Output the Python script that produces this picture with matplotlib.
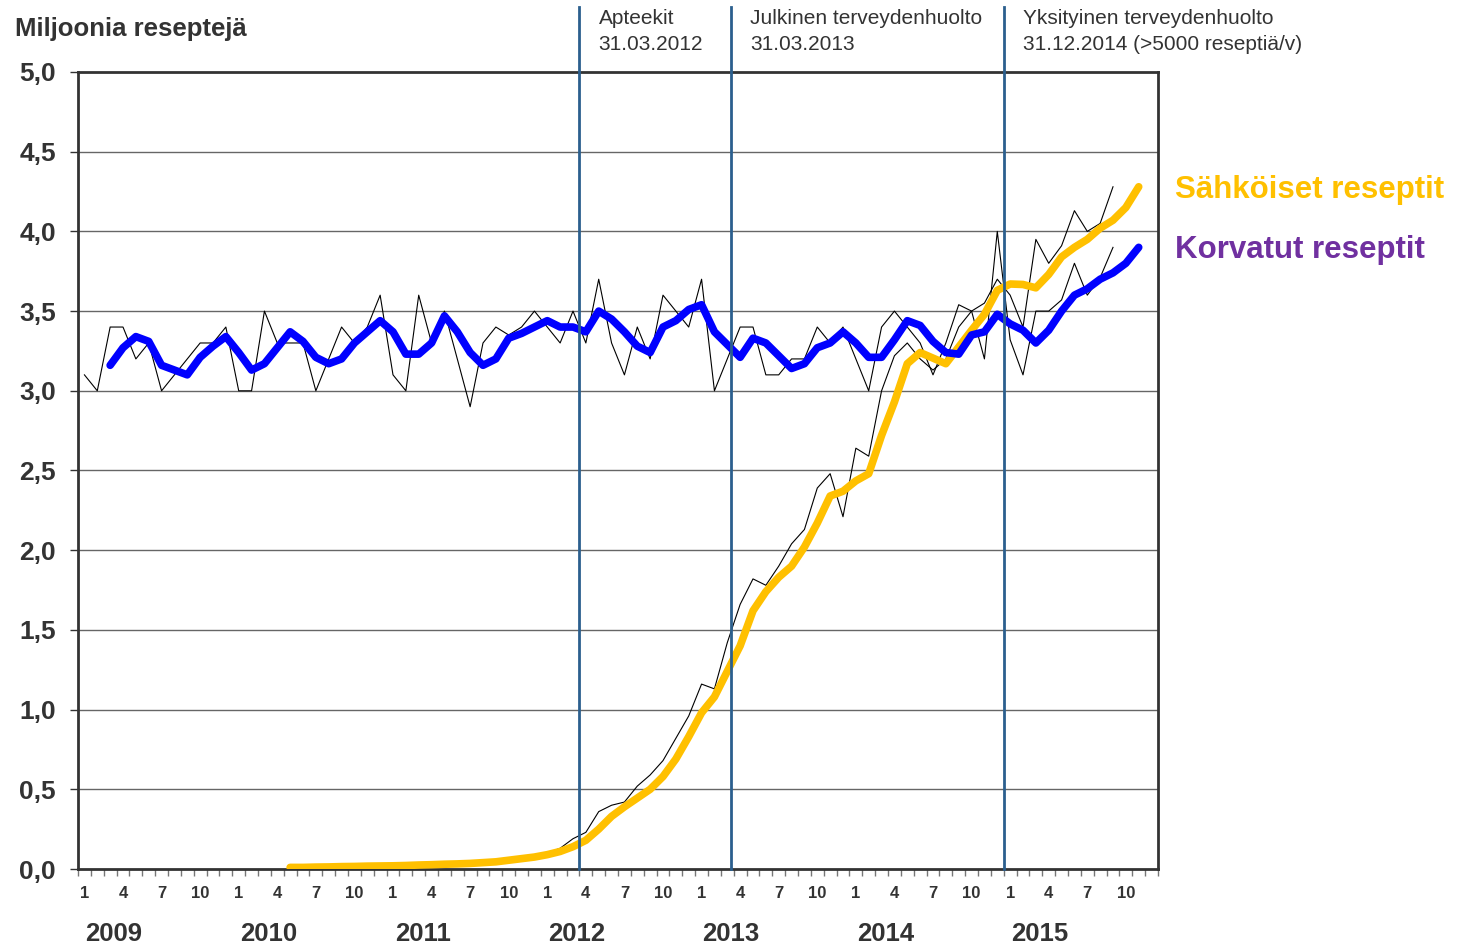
import numpy as np
import matplotlib
matplotlib.use('Agg')
import matplotlib.pyplot as plt
import matplotlib.transforms as mtransforms

plt.rcParams['font.family'] = ['Liberation Sans', 'DejaVu Sans']

TEXT = '#333333'
YELLOW = '#FFC000'
BLUE = '#0000FF'
PURPLE = '#7030A0'
VLINE = '#2B5F8E'

# month index 0 = 1/2009 ... 83 = 12/2015
years = [2009, 2010, 2011, 2012, 2013, 2014, 2015]
month_labels = ['1', '4', '7', '10']

# korvatut reseptit, monthly (thin line), from 1/2009
korvatut_kk = [3.1, 3.0, 3.4, 3.4, 3.2, 3.3, 3.0, 3.1, 3.2, 3.3, 3.3, 3.4,
               3.0, 3.0, 3.5, 3.3, 3.3, 3.3, 3.0, 3.2, 3.4, 3.3, 3.4, 3.6,
               3.1, 3.0, 3.6, 3.3, 3.5, 3.2, 2.9, 3.3, 3.4, 3.35, 3.4, 3.5,
               3.4, 3.3, 3.5, 3.3, 3.7, 3.3, 3.1, 3.4, 3.2, 3.6, 3.5, 3.4,
               3.7, 3.0, 3.2, 3.4, 3.4, 3.1, 3.1, 3.2, 3.2, 3.4, 3.3, 3.4,
               3.2, 3.0, 3.4, 3.5, 3.4, 3.3, 3.1, 3.3, 3.54, 3.5, 3.2, 4.0,
               3.32, 3.10, 3.50, 3.50, 3.57, 3.80, 3.60, 3.71, 3.90]

# korvatut reseptit, 3 month average (thick line), from 3/2009
korvatut_ka = [3.16, 3.27, 3.34, 3.31, 3.16, 3.13, 3.10, 3.21, 3.28, 3.34,
               3.24, 3.13, 3.17, 3.27, 3.37, 3.31, 3.21, 3.17, 3.20, 3.30,
               3.37, 3.44, 3.37, 3.23, 3.23, 3.30, 3.47, 3.37, 3.24, 3.16,
               3.20, 3.33, 3.36, 3.40, 3.44, 3.40, 3.40, 3.37, 3.50, 3.45,
               3.37, 3.28, 3.24, 3.40, 3.44, 3.51, 3.54, 3.37, 3.29, 3.21,
               3.33, 3.30, 3.22, 3.14, 3.17, 3.27, 3.30, 3.37, 3.30, 3.21,
               3.21, 3.32, 3.44, 3.41, 3.31, 3.24, 3.23, 3.35, 3.37, 3.48,
               3.42, 3.38, 3.30, 3.38, 3.50, 3.60, 3.64, 3.70, 3.74, 3.80,
               3.90]

# sähköiset reseptit, monthly (thin line), from 5/2010
sahkoiset_kk = [0.005, 0.008, 0.01, 0.012, 0.014, 0.016, 0.018, 0.02,
                0.021, 0.024, 0.026, 0.03, 0.033, 0.036, 0.04, 0.045, 0.05,
                0.06, 0.075, 0.085, 0.10, 0.13, 0.19, 0.23, 0.36, 0.40, 0.42,
                0.52, 0.59, 0.68, 0.82, 0.96, 1.16, 1.13, 1.42, 1.66, 1.82,
                1.78, 1.90, 2.04, 2.13, 2.39, 2.48, 2.21, 2.64, 2.59, 3.00,
                3.22, 3.30, 3.20, 3.13, 3.20, 3.40, 3.50, 3.55, 3.70, 3.60,
                3.40, 3.95, 3.80, 3.91, 4.13, 4.00, 4.05, 4.28]

# sähköiset reseptit, 3 month average (thick line), from 5/2010
sahkoiset_ka = [0.01, 0.01, 0.012, 0.013, 0.015, 0.016, 0.018, 0.019, 0.02,
                0.022, 0.025, 0.027, 0.03, 0.032, 0.035, 0.04, 0.045, 0.055,
                0.065, 0.075, 0.09, 0.11, 0.14, 0.18, 0.25, 0.33, 0.39, 0.445,
                0.50, 0.58, 0.69, 0.83, 0.98, 1.08, 1.24, 1.40, 1.62, 1.74,
                1.83, 1.90, 2.02, 2.17, 2.34, 2.37, 2.435, 2.48, 2.72, 2.93,
                3.17, 3.24, 3.205, 3.17, 3.275, 3.38, 3.48, 3.63, 3.67, 3.667,
                3.646, 3.73, 3.84, 3.90, 3.95, 4.02, 4.07, 4.15, 4.28]

events = [(38.5, 'Apteekit\n31.03.2012'),
          (50.3, 'Julkinen terveydenhuolto\n31.03.2013'),
          (71.5, 'Yksityinen terveydenhuolto\n31.12.2014 (>5000 reseptiä/v)')]

x_kk = np.arange(len(korvatut_kk))
x_ka = np.arange(len(korvatut_ka)) + 2
x_s_kk = np.arange(len(sahkoiset_kk)) + 16
x_s_ka = np.arange(len(sahkoiset_ka)) + 16

fig = plt.figure(figsize=(14.68, 9.46), dpi=100)
ax = fig.add_axes([78/1468, 1 - 869/946, (1158-78)/1468, (869-72)/946])

ax.plot(x_kk, korvatut_kk, color='black', lw=0.8, zorder=3)
ax.plot(x_s_kk, sahkoiset_kk, color='black', lw=0.8, zorder=3)
ax.plot(x_s_ka, sahkoiset_ka, color=YELLOW, lw=5.5, solid_capstyle='round',
        solid_joinstyle='round', zorder=4)
ax.plot(x_ka, korvatut_ka, color=BLUE, lw=5.5, solid_capstyle='round',
        solid_joinstyle='round', zorder=5)

ax.set_xlim(-0.5, 83.5)
ax.set_ylim(0, 5)

# grid
for v in np.arange(0.5, 5.0, 0.5):
    ax.axhline(v, color='#666666', lw=1, zorder=1)

trans = mtransforms.blended_transform_factory(ax.transData, ax.transAxes)

# event lines and notes
for xv, note in events:
    ax.axvline(xv, ymin=0, ymax=1.081, color=VLINE, lw=2, clip_on=False, zorder=6)
    ax.text(xv + 1.5, 1.079, note, transform=trans, ha='left', va='top',
            fontsize=15, color=TEXT, linespacing=1.45)

# y axis
yt = np.arange(0, 5.01, 0.5)
ax.set_yticks(yt)
ax.set_yticklabels([('%.1f' % v).replace('.', ',') for v in yt])
ax.tick_params(axis='y', length=6, width=1, color=TEXT, pad=10, labelsize=19,
               labelcolor=TEXT)
for lab in ax.get_yticklabels():
    lab.set_fontweight('bold')

# x axis: month labels 1,4,7,10 and minor ticks at month borders
major = [12*k + m for k in range(len(years)) for m in (0, 3, 6, 9)]
ax.set_xticks(major)
ax.set_xticklabels(month_labels * len(years), fontsize=12, fontweight='bold', color=TEXT)
ax.set_xticks(np.arange(-0.5, 84, 1), minor=True)
ax.tick_params(axis='x', which='major', length=0, pad=12)
ax.tick_params(axis='x', which='minor', length=5, width=1, color='#777777')

for k, yr in enumerate(years):
    ax.text(12*k + 2.3, -0.082, str(yr), transform=trans, ha='center', va='center',
            fontsize=18.5, fontweight='bold', color=TEXT)

for side in ax.spines.values():
    side.set_color('#333333')
    side.set_linewidth(2)

fig.text(15/1468, 1 - 29/946, 'Miljoonia reseptejä', ha='left', va='center',
         fontsize=18.5, fontweight='bold', color=TEXT)
fig.text(1175/1468, 1 - 190/946, 'Sähköiset reseptit', ha='left', va='center',
         fontsize=22.5, fontweight='bold', color=YELLOW)
fig.text(1175/1468, 1 - 250/946, 'Korvatut reseptit', ha='left', va='center',
         fontsize=22.5, fontweight='bold', color=PURPLE)

fig.savefig('out.png', dpi=100)
